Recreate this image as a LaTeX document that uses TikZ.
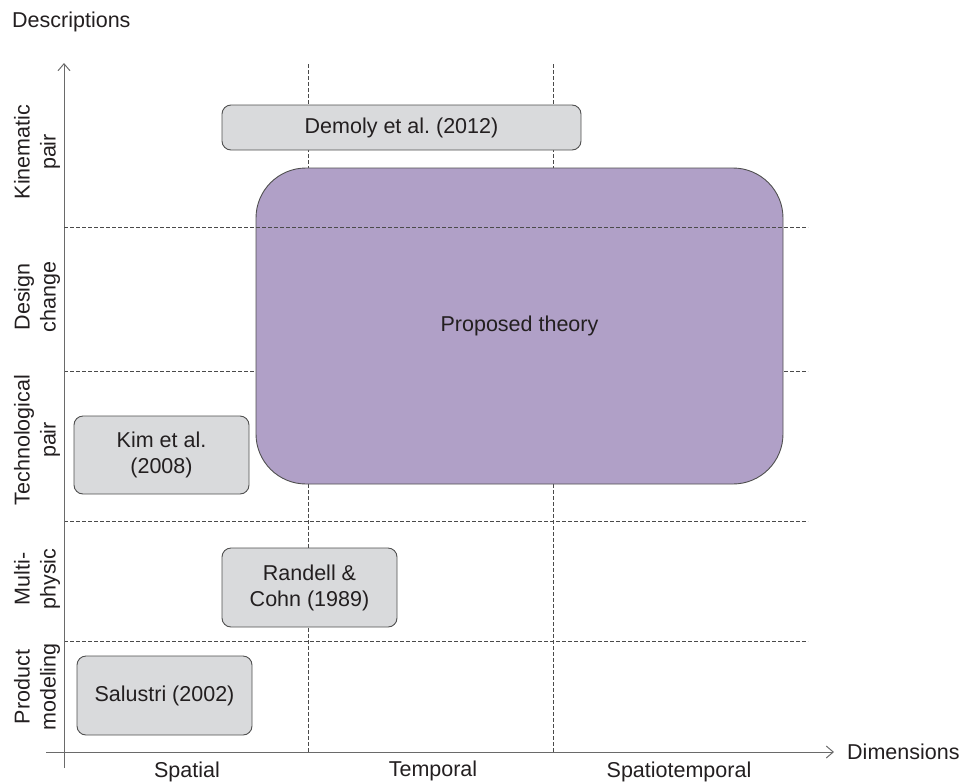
\documentclass[tikz,border=0pt]{standalone}
\usepackage{fontspec}
\setmainfont{Liberation Sans}
\usetikzlibrary{arrows.meta}
\frenchspacing
\definecolor{boxgray}{HTML}{D9DADC}
\definecolor{boxline}{HTML}{505050}
\definecolor{purp}{HTML}{B0A0C7}
\definecolor{txt}{HTML}{231F20}
\definecolor{axisc}{HTML}{6A6A6A}
\definecolor{dashc}{HTML}{4A4A4A}
\tikzset{
  lbl/.style={font=\fontsize{21.5}{26}\selectfont\frenchspacing, text=txt, inner sep=0pt, align=center},
  gbox/.style={lbl, draw=boxline, line width=0.9pt, fill=boxgray, rounded corners=9pt},
  pbox/.style={lbl, draw=boxline, line width=0.9pt, fill=purp, rounded corners=50pt},
  grid/.style={draw=dashc, line width=0.8pt, dash pattern=on 4pt off 2pt},
  axis/.style={draw=axisc, line width=1pt, -{Straight Barb[length=7pt,width=12pt]}},
  vlab/.style={lbl, rotate=90}
}
\begin{document}
\begin{tikzpicture}[x=1pt,y=-1pt]
\useasboundingbox (0,0) rectangle (961,782);
% coordinates
\coordinate (v1t) at (308,64);  \coordinate (v1b) at (308,752);
\coordinate (v2t) at (553,64);  \coordinate (v2b) at (553,752);
\coordinate (h1l) at (64,227);  \coordinate (h1r) at (808,227);
\coordinate (h2l) at (64,371);  \coordinate (h2r) at (808,371);
\coordinate (h3l) at (64,521);  \coordinate (h3r) at (808,521);
\coordinate (h4l) at (64,641);  \coordinate (h4r) at (808,641);
\coordinate (ybot) at (64,768); \coordinate (ytop) at (64,63);
\coordinate (xl) at (46,752);   \coordinate (xr) at (834,752);
% grid lines beneath boxes
\draw[grid] (v1t) -- (v1b);
\draw[grid] (v2t) -- (v2b);
\draw[grid] (h2l) -- (h2r);
\draw[grid] (h3l) -- (h3r);
\draw[grid] (h4l) -- (h4r);
% axes
\draw[axis] (ybot) -- (ytop);
\draw[axis] (xl) -- (xr);
% boxes
\node[gbox, minimum width=359pt, minimum height=45pt] (demoly) at (401.5,127.5) {Demoly et al. (2012)};
\node[pbox, minimum width=527pt, minimum height=316pt] (prop) at (519.5,326) {Proposed theory};
\node[gbox, minimum width=175pt, minimum height=78pt] (kim) at (161.5,455) {Kim et al.\\(2008)};
\node[gbox, minimum width=175pt, minimum height=79pt] (randell) at (309.5,587.5) {Randell \&\\Cohn (1989)};
\node[gbox, minimum width=175pt, minimum height=79pt] (salustri) at (164.5,695.5) {Salustri (2002)};
% grid line above purple box
\draw[grid] (h1l) -- (h1r);
% axis titles
\node[lbl, anchor=base west] (desc) at (12,27) {Descriptions};
\node[lbl, anchor=west] (dims) at (847,752) {Dimensions};
% x labels
\node[lbl, anchor=base] (spat) at (187,777) {Spatial};
\node[lbl, anchor=base] (temp) at (433,776) {Temporal};
\node[lbl, anchor=base] (spatt) at (679,777) {Spatiotemporal};
% y labels
\node[vlab] (kin) at (37,152) {Kinematic\\pair};
\node[vlab] (des) at (37,297) {Design\\change};
\node[vlab] (tech) at (37,440) {Technological\\pair};
\node[vlab] (multi) at (37,579) {Multi-\\physic};
\node[vlab] (prod) at (37,687) {Product\\modeling};
\end{tikzpicture}
\end{document}
